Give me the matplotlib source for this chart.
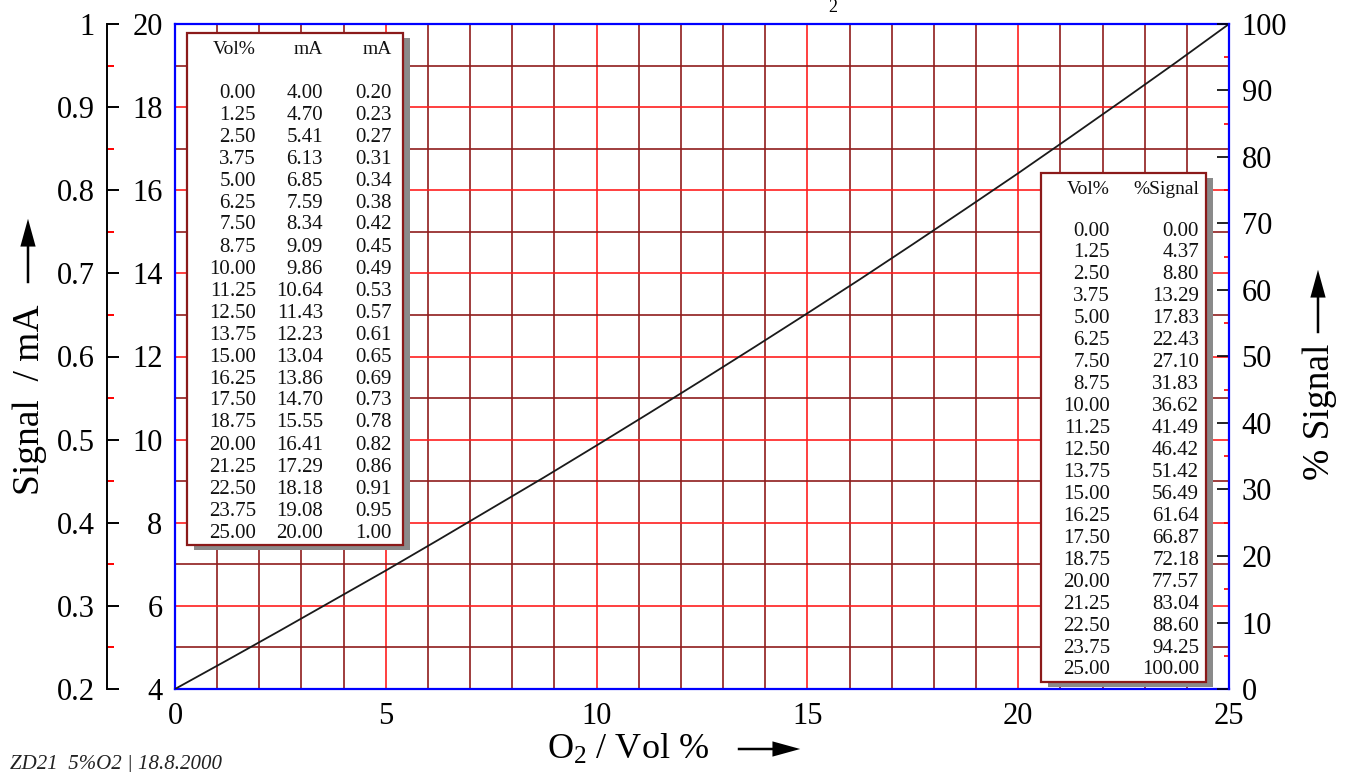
import matplotlib
matplotlib.use("Agg")
import matplotlib.pyplot as plt
from matplotlib.patches import Rectangle, FancyArrowPatch
from matplotlib.ticker import MultipleLocator, FixedLocator

plt.rcParams['font.family'] = ['Liberation Serif', 'DejaVu Serif']
plt.rcParams['mathtext.fontset'] = 'custom'
plt.rcParams['mathtext.rm'] = 'Liberation Serif'
plt.rcParams['mathtext.it'] = 'Liberation Serif:italic'

# ---- data ----
vol = [0.00, 1.25, 2.50, 3.75, 5.00, 6.25, 7.50, 8.75, 10.00, 11.25, 12.50,
       13.75, 15.00, 16.25, 17.50, 18.75, 20.00, 21.25, 22.50, 23.75, 25.00]
ma = [4.00, 4.70, 5.41, 6.13, 6.85, 7.59, 8.34, 9.09, 9.86, 10.64, 11.43,
      12.23, 13.04, 13.86, 14.70, 15.55, 16.41, 17.29, 18.18, 19.08, 20.00]
ma_norm = [0.20, 0.23, 0.27, 0.31, 0.34, 0.38, 0.42, 0.45, 0.49, 0.53, 0.57,
           0.61, 0.65, 0.69, 0.73, 0.78, 0.82, 0.86, 0.91, 0.95, 1.00]
pct_signal = [0.00, 4.37, 8.80, 13.29, 17.83, 22.43, 27.10, 31.83, 36.62, 41.49,
              46.42, 51.42, 56.49, 61.64, 66.87, 72.18, 77.57, 83.04, 88.60,
              94.25, 100.00]
x_ticks = [0, 5, 10, 15, 20, 25]
ma_ticks = [4, 6, 8, 10, 12, 14, 16, 18, 20]
sig_ticks = [0.2, 0.3, 0.4, 0.5, 0.6, 0.7, 0.8, 0.9, 1.0]
sig_labels = ['0.2', '0.3', '0.4', '0.5', '0.6', '0.7', '0.8', '0.9', '1']
pct_ticks = [0, 10, 20, 30, 40, 50, 60, 70, 80, 90, 100]

W, H = 1353, 772
DPI = 100
fig = plt.figure(figsize=(W / DPI, H / DPI), dpi=DPI)

def fx(x):
    return x / W

def fy(y):
    return 1 - y / H

L, R, T, B = 175, 1229, 24, 689
pos = [fx(L), fy(B), fx(R) - fx(L), fy(T) - fy(B)]

RED = '#ff1f1f'
DARK = '#8f1d1d'
BLUE = '#0000ff'

ax = fig.add_axes(pos)
ax.set_xlim(0, 25)
ax.set_ylim(4, 20)
ax.xaxis.set_major_locator(FixedLocator(x_ticks))
ax.xaxis.set_minor_locator(MultipleLocator(1))
ax.yaxis.set_major_locator(FixedLocator(ma_ticks))
ax.yaxis.set_minor_locator(MultipleLocator(1))
ax.grid(which='minor', color=DARK, lw=1.2, zorder=0)
ax.grid(which='major', color=RED, lw=1.2, zorder=0)
ax.set_axisbelow(True)
ax.tick_params(which='both', length=0)
ax.tick_params(axis='y', labelsize=22, pad=9)
ax.tick_params(axis='x', labelsize=22, pad=9)
for s in ax.spines.values():
    s.set_color(BLUE)
    s.set_linewidth(1.6)
ax.spines['right'].set_visible(False)

ax.plot(vol, ma, color='#1a1a1a', lw=1.3, zorder=3)

# right % signal axis
axr = ax.twinx()
axr.set_ylim(0, 100)
axr.yaxis.set_major_locator(FixedLocator(pct_ticks))
axr.yaxis.set_minor_locator(MultipleLocator(5))
axr.tick_params(axis='y', which='major', direction='in', length=8.5, width=1.2,
                color='black', labelsize=22, pad=9)
axr.tick_params(axis='y', which='minor', direction='in', length=3.5, width=1.2,
                color='red')
for k in ['left', 'top', 'bottom']:
    axr.spines[k].set_visible(False)
axr.spines['right'].set_color(BLUE)
axr.spines['right'].set_linewidth(1.6)

# outer left signal axis
axo = fig.add_axes(pos, facecolor='none')
axo.set_ylim(0.2, 1.0)
axo.set_xticks([])
for k in ['right', 'top', 'bottom']:
    axo.spines[k].set_visible(False)
axo.spines['left'].set_position(('outward', (L - 107) * 72 / DPI))
axo.spines['left'].set_color('black')
axo.spines['left'].set_linewidth(1.4)
axo.yaxis.set_major_locator(FixedLocator(sig_ticks))
axo.set_yticklabels(sig_labels)
axo.yaxis.set_minor_locator(MultipleLocator(0.05))
axo.tick_params(axis='y', which='major', direction='in', length=8.5, width=1.4,
                color='black', labelsize=22, pad=9)
axo.tick_params(axis='y', which='minor', direction='in', length=5, width=1.4,
                color='red')

ARROW = 'simple,head_length=1.0,head_width=0.55,tail_width=0.09'


def arrow(p0, p1):
    fig.add_artist(FancyArrowPatch(
        (fx(p0[0]), fy(p0[1])), (fx(p1[0]), fy(p1[1])),
        transform=fig.transFigure, arrowstyle=ARROW, color='black', lw=0,
        mutation_scale=20))


# axis labels with arrows
fig.text(fx(30), fy(400), 'Signal  / mA', rotation=90, fontsize=27,
         ha='center', va='center')
arrow((28, 286), (28, 216))
fig.text(fx(1320), fy(412), '% Signal', rotation=90, fontsize=27,
         ha='center', va='center')
arrow((1318, 336), (1318, 267))
fig.text(fx(628), fy(750), 'O$_2$ / Vol %', fontsize=26, ha='center', va='center')
arrow((735, 749), (803, 749))

# footer
fig.text(fx(10), fy(764), 'ZD21  5%O2 | 18.8.2000', fontsize=15,
         style='italic', ha='left', va='center', color='#222222')

# cut-off title subscript
fig.text(fx(833), fy(7), '2', fontsize=13, ha='center', va='center')


def table(x0, y0, x1, y1, cols_right, header, rows, header_y, row0_y, row_dy):
    sh = Rectangle((fx(x0 + 7), fy(y1 + 5)), fx(x1) - fx(x0), fy(y0) - fy(y1),
                   transform=fig.transFigure, facecolor='#8a8a8a',
                   edgecolor='none', zorder=5)
    fig.add_artist(sh)
    box = Rectangle((fx(x0), fy(y1)), fx(x1) - fx(x0), fy(y0) - fy(y1),
                    transform=fig.transFigure, facecolor='white',
                    edgecolor='#8b1a1a', lw=1.6, zorder=6)
    fig.add_artist(box)
    for cx, h in zip(cols_right, header):
        fig.text(fx(cx), fy(header_y), h, fontsize=14, ha='right', va='center',
                 zorder=7, color='#111111')
    for i, row in enumerate(rows):
        yy = row0_y + i * row_dy
        for cx, v in zip(cols_right, row):
            fig.text(fx(cx), fy(yy), v, fontsize=15, ha='right', va='center',
                     zorder=7, color='#111111')


rows_left = [(f'{v:.2f}', f'{m:.2f}', f'{n:.2f}') for v, m, n in zip(vol, ma, ma_norm)]
table(187, 33, 403, 545, [256, 323, 392], ['Vol%', 'mA', 'mA'], rows_left,
      50, 93, 22.0)

rows_right = [(f'{v:.2f}', f'{p:.2f}') for v, p in zip(vol, pct_signal)]
table(1041, 173, 1206, 682, [1110, 1199], ['Vol%', '%Signal'], rows_right,
      190, 231, 21.95)

fig.savefig('out.png', dpi=DPI)
